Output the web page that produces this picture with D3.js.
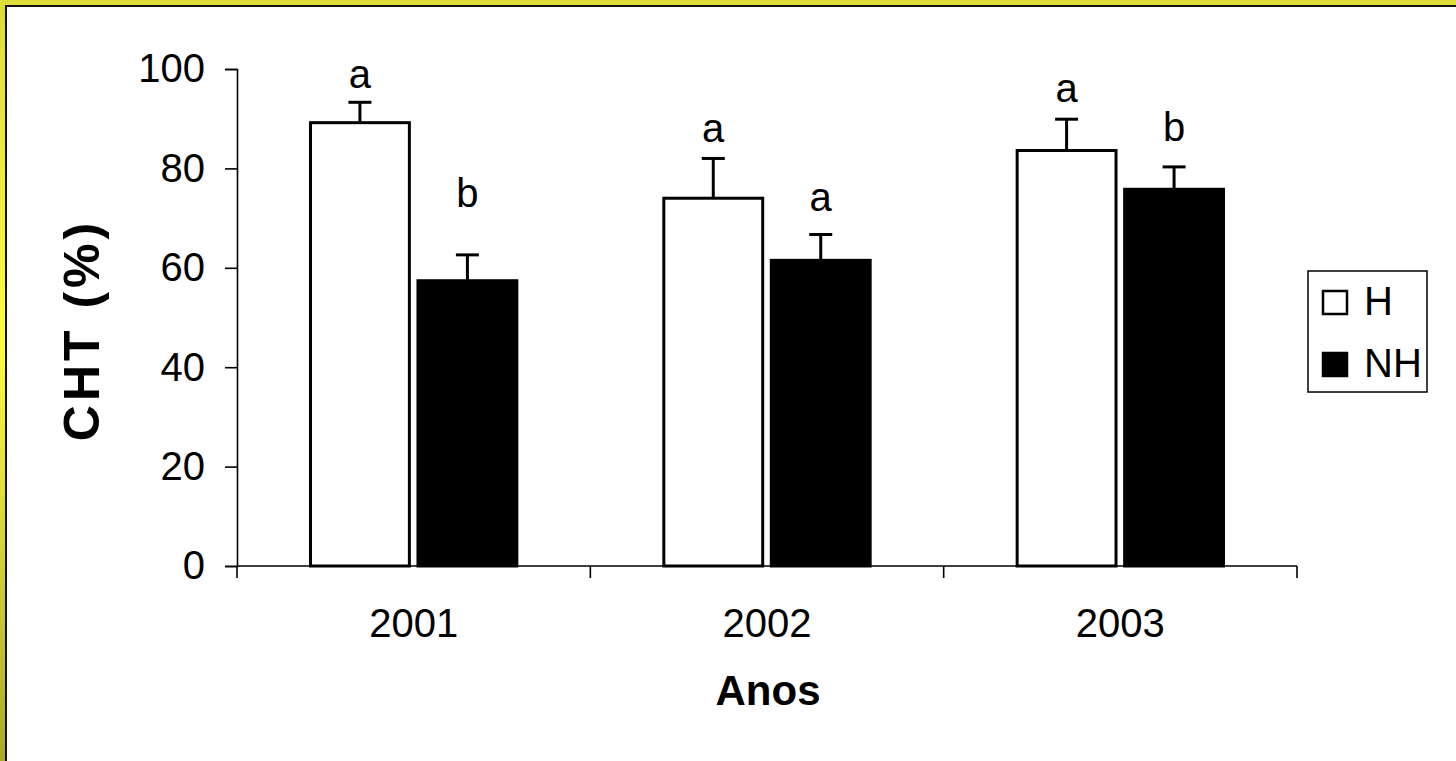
<!DOCTYPE html>
<html>
<head>
<meta charset="utf-8">
<script src="https://cdn.jsdelivr.net/npm/d3@7"></script>
<style>
  html, body { margin: 0; padding: 0; background: #fff; }
  svg { display: block; font-family: "Liberation Sans", Arial, sans-serif; }
</style>
</head>
<body>
<svg id="chart" width="1456" height="761"></svg>
<script>
// ---- data ----
const years = ["2001", "2002", "2003"];
const seriesNames = ["H", "NH"];
const valuesH = [89.2, 74.0, 83.6];
const valuesNH = [57.4, 61.5, 75.8];
const errorsH = [4.1, 8.0, 6.3];
const errorsNH = [5.2, 5.2, 4.5];
const lettersH = ["a", "a", "a"];
const lettersNH = ["b", "a", "b"];
const letterValuesH = [96.2, 85.3, 93.4];
const letterValuesNH = [72.2, 71.4, 85.5];
const yTicks = [0, 20, 40, 60, 80, 100];

const W = 1456, H = 761;
const svg = d3.select("#chart");

// ---- frame ----
const defs = svg.append("defs");
const gL = defs.append("linearGradient").attr("id", "gl").attr("x1", 0).attr("y1", 0).attr("x2", 0).attr("y2", 1);
gL.append("stop").attr("offset", "0%").attr("stop-color", "#dcdc38");
gL.append("stop").attr("offset", "45%").attr("stop-color", "#fcfc40");
gL.append("stop").attr("offset", "100%").attr("stop-color", "#aaaa26");
svg.append("rect").attr("x", 0).attr("y", 0).attr("width", W).attr("height", H).attr("fill", "#ffffff");
svg.append("rect").attr("x", 0).attr("y", 0).attr("width", 6).attr("height", H).attr("fill", "url(#gl)");
svg.append("rect").attr("x", 0).attr("y", 0).attr("width", W).attr("height", 6).attr("fill", "#dede3a");
svg.append("rect").attr("x", 5).attr("y", 5).attr("width", 2).attr("height", H - 5).attr("fill", "#111");
svg.append("rect").attr("x", 5).attr("y", 5).attr("width", W - 5).attr("height", 2).attr("fill", "#111");

// ---- scales ----
const x0 = d3.scaleBand().domain(years).range([237, 1297]).paddingInner(0.416).paddingOuter(0.208);
const x1 = d3.scaleBand().domain(seriesNames).range([0, x0.bandwidth()]).paddingInner(0.08);
const y = d3.scaleLinear().domain([0, 100]).range([566, 69]);

// ---- y axis ----
const yAxis = svg.append("g").attr("transform", "translate(237,0)")
  .call(d3.axisLeft(y).tickValues(yTicks).tickSize(12).tickPadding(20).tickFormat(d3.format("d")));
yAxis.select(".domain").attr("stroke", "#000").attr("stroke-width", 1.6);
yAxis.selectAll(".tick line").attr("stroke", "#000").attr("stroke-width", 1.6);
yAxis.selectAll(".tick text").attr("font-size", 40).attr("fill", "#000")
  .attr("font-family", "'Liberation Sans', Arial, sans-serif");

// ---- x axis (ticks at category boundaries) ----
const xg = svg.append("g");
const step = x0.step();
const [r0, r1] = x0.range();
xg.append("line").attr("x1", r0).attr("x2", r1).attr("y1", y(0)).attr("y2", y(0))
  .attr("stroke", "#000").attr("stroke-width", 1.6);
d3.range(years.length + 1).forEach(i => {
  const xx = r0 + i * step;
  xg.append("line").attr("x1", xx).attr("x2", xx).attr("y1", y(0)).attr("y2", y(0) + 12)
    .attr("stroke", "#000").attr("stroke-width", 1.6);
});
xg.selectAll("text.cat").data(years).enter().append("text").attr("class", "cat")
  .attr("x", (d, i) => r0 + (i + 0.5) * step).attr("y", 637)
  .attr("text-anchor", "middle").attr("font-size", 40).text(d => d);

// ---- bars ----
const rows = years.map((yr, i) => ({
  year: yr,
  items: [
    { s: "H", v: valuesH[i], e: errorsH[i], l: lettersH[i], lv: letterValuesH[i], fill: "#fff" },
    { s: "NH", v: valuesNH[i], e: errorsNH[i], l: lettersNH[i], lv: letterValuesNH[i], fill: "#000" }
  ]
}));

const groups = svg.selectAll("g.grp").data(rows).enter().append("g").attr("class", "grp")
  .attr("transform", d => `translate(${x0(d.year)},0)`);

groups.selectAll("g.err").data(d => d.items).enter().append("g").attr("class", "err")
  .each(function (d) {
    const g = d3.select(this);
    const cx = x1(d.s) + x1.bandwidth() / 2;
    g.append("line").attr("x1", cx).attr("x2", cx).attr("y1", y(d.v)).attr("y2", y(d.v + d.e))
      .attr("stroke", "#000").attr("stroke-width", 3);
    g.append("line").attr("x1", cx - 11.5).attr("x2", cx + 11.5).attr("y1", y(d.v + d.e)).attr("y2", y(d.v + d.e))
      .attr("stroke", "#000").attr("stroke-width", 3);
  });

groups.selectAll("rect.bar").data(d => d.items).enter().append("rect").attr("class", "bar")
  .attr("x", d => x1(d.s)).attr("width", x1.bandwidth())
  .attr("y", d => y(d.v)).attr("height", d => y(0) - y(d.v))
  .attr("fill", d => d.fill).attr("stroke", "#000").attr("stroke-width", 3);

groups.selectAll("text.lt").data(d => d.items).enter().append("text").attr("class", "lt")
  .attr("x", d => x1(d.s) + x1.bandwidth() / 2).attr("y", d => y(d.lv))
  .attr("text-anchor", "middle").attr("font-size", 40).text(d => d.l);

// ---- axis titles ----
svg.append("text").attr("transform", "translate(99,330) rotate(-90)")
  .attr("text-anchor", "middle").attr("font-size", 50).attr("font-weight", "bold")
  .attr("letter-spacing", 4).text("CHT (%)");
svg.append("text").attr("x", 768).attr("y", 705)
  .attr("text-anchor", "middle").attr("font-size", 42).attr("font-weight", "bold").text("Anos");

// ---- legend ----
const lg = svg.append("g");
lg.append("rect").attr("x", 1308).attr("y", 271).attr("width", 119).attr("height", 121)
  .attr("fill", "#fff").attr("stroke", "#000").attr("stroke-width", 1.5);
const legendItems = seriesNames.map((s, i) => ({ s, fill: i === 0 ? "#fff" : "#000" }));
lg.selectAll("rect.sw").data(legendItems).enter().append("rect").attr("class", "sw")
  .attr("x", 1323).attr("y", (d, i) => 291 + i * 62).attr("width", 24).attr("height", 23)
  .attr("fill", d => d.fill).attr("stroke", "#000").attr("stroke-width", 2.5);
lg.selectAll("text.lt").data(legendItems).enter().append("text").attr("class", "lt")
  .attr("x", 1364).attr("y", (d, i) => 315 + i * 62).attr("font-size", 40).text(d => d.s);
</script>
</body>
</html>
